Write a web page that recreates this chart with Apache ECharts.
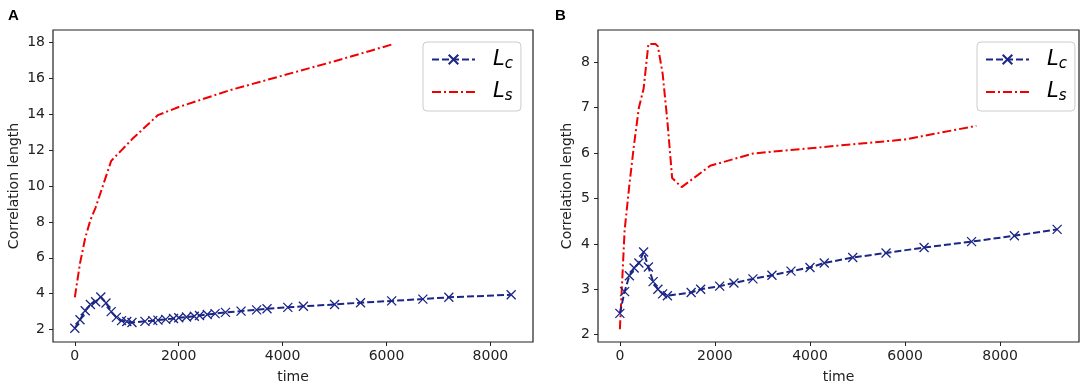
<!DOCTYPE html>
<html>
<head>
<meta charset="utf-8">
<script src="https://cdn.jsdelivr.net/npm/echarts@6/dist/echarts.min.js"></script>
<style>
  html, body { margin: 0; padding: 0; background: #fff; }
  #chart { width: 1084px; height: 391px; }
</style>
</head>
<body>
<div id="chart"></div>
<script>
// panel A
var timeA_c = [0, 100, 200, 300, 400, 500, 600, 700, 800, 900, 1000, 1100, 1350, 1500, 1600, 1750, 1900, 2000, 2150, 2300, 2400, 2550, 2700, 2900, 3200, 3500, 3700, 4100, 4400, 5000, 5500, 6100, 6700, 7200, 8400];
var lcA = [2.08, 2.55, 3.05, 3.4, 3.55, 3.82, 3.48, 3.0, 2.68, 2.5, 2.45, 2.4, 2.46, 2.5, 2.53, 2.57, 2.62, 2.66, 2.7, 2.74, 2.79, 2.84, 2.89, 2.96, 3.03, 3.1, 3.16, 3.24, 3.3, 3.4, 3.5, 3.6, 3.7, 3.8, 3.94];
var timeA_s = [0, 100, 200, 300, 400, 700, 900, 1100, 1600, 2000, 3000, 4000, 5000, 6100];
var lsA = [3.8, 5.7, 7.1, 8.1, 8.8, 11.4, 12.0, 12.6, 13.95, 14.4, 15.35, 16.15, 16.95, 17.88];

// panel B
var timeB_c = [0, 100, 200, 300, 400, 500, 600, 700, 800, 900, 1000, 1500, 1700, 2100, 2400, 2800, 3200, 3600, 4000, 4300, 4900, 5600, 6400, 7400, 8300, 9200];
var lcB = [2.47, 2.95, 3.3, 3.47, 3.58, 3.82, 3.49, 3.17, 3.0, 2.9, 2.86, 2.93, 3.0, 3.07, 3.14, 3.23, 3.31, 3.4, 3.48, 3.58, 3.7, 3.8, 3.92, 4.05, 4.18, 4.32];
var timeB_s = [0, 100, 200, 300, 400, 500, 600, 750, 800, 900, 1000, 1100, 1300, 1900, 2800, 6000, 7500];
var lsB = [2.12, 4.3, 5.3, 6.2, 7.0, 7.42, 8.4, 8.4, 8.35, 7.75, 6.7, 5.45, 5.25, 5.72, 5.99, 6.3, 6.6];

var xTicks = [0, 2000, 4000, 6000, 8000];
var yTicksA = [2, 4, 6, 8, 10, 12, 14, 16, 18];
var yTicksB = [2, 3, 4, 5, 6, 7, 8];

var NAVY = '#1b2686';
var RED = '#f00000';
var CROSS = 'path://M0,0L10,10M10,0L0,10';
var FONT = 'DejaVu Sans';

function zip(xs, ys) {
  return xs.map(function (x, i) { return [x, ys[i]]; });
}

function xAxisCfg(idx, min, max) {
  return {
    type: 'value', gridIndex: idx, min: min, max: max,
    name: 'time', nameLocation: 'middle', nameGap: 28,
    nameTextStyle: { fontFamily: FONT, fontSize: 14, color: '#222' },
    splitLine: { show: false },
    axisLine: { show: false, onZero: false },
    axisTick: { show: true, length: 4, customValues: xTicks, lineStyle: { color: '#222' } },
    axisLabel: {
      customValues: xTicks, fontFamily: FONT, fontSize: 14, color: '#222', margin: 7,
      formatter: function (v) { return String(v); }
    }
  };
}

function yAxisCfg(idx, min, max, ticks, gap) {
  return {
    type: 'value', gridIndex: idx, min: min, max: max,
    name: 'Correlation length', nameLocation: 'middle', nameGap: gap,
    nameTextStyle: { fontFamily: FONT, fontSize: 14, color: '#222' },
    splitLine: { show: false },
    axisLine: { show: false, onZero: false },
    axisTick: { show: true, length: 4, customValues: ticks, lineStyle: { color: '#222' } },
    axisLabel: {
      customValues: ticks, fontFamily: FONT, fontSize: 14, color: '#222', margin: 8,
      formatter: function (v) { return String(v); }
    }
  };
}

function lcSeries(idx, data) {
  return {
    name: 'Lc', type: 'line', xAxisIndex: idx, yAxisIndex: idx, data: data,
    symbol: CROSS, symbolSize: 9, showAllSymbol: true,
    itemStyle: { color: NAVY, borderColor: NAVY, borderWidth: 1.3 },
    lineStyle: { color: NAVY, width: 2, type: [7, 3] },
    emphasis: { disabled: true }, z: 3
  };
}

function lsSeries(idx, data) {
  return {
    name: 'Ls', type: 'line', xAxisIndex: idx, yAxisIndex: idx, data: data,
    symbol: 'none',
    itemStyle: { color: RED },
    lineStyle: { color: RED, width: 2, type: [9, 3, 2, 3] },
    emphasis: { disabled: true }, z: 2
  };
}

function legendCfg(left) {
  return {
    orient: 'vertical', left: left, top: 42,
    data: ['Lc', { name: 'Ls', itemStyle: { opacity: 0 } }],
    itemWidth: 43, itemHeight: 12, itemGap: 10,
    padding: [7, 8, 7, 8],
    borderColor: '#cccccc', borderWidth: 1, borderRadius: 4,
    selectedMode: false,
    formatter: function (name) {
      return '{m|L}{s|' + name.charAt(1) + '}';
    },
    textStyle: {
      rich: {
        m: { fontFamily: FONT, fontStyle: 'italic', fontSize: 21, color: '#000', padding: [0, 0, 0, 13] },
        s: { fontFamily: FONT, fontStyle: 'italic', fontSize: 15, color: '#000', verticalAlign: 'bottom', padding: [9, 0, 0, 0] }
      }
    }
  };
}

var chart = echarts.init(document.getElementById('chart'), null, { renderer: 'canvas' });
chart.setOption({
  animation: false,
  backgroundColor: '#fff',
  grid: [
    { left: 53, top: 30, width: 480, height: 312, show: true, borderColor: '#222', borderWidth: 1.2, backgroundColor: 'transparent' },
    { left: 598, top: 30, width: 481, height: 312, show: true, borderColor: '#222', borderWidth: 1.2, backgroundColor: 'transparent' }
  ],
  xAxis: [xAxisCfg(0, -420, 8820), xAxisCfg(1, -460, 9660)],
  yAxis: [yAxisCfg(0, 1.31, 18.69, yTicksA, 32), yAxisCfg(1, 1.84, 8.71, yTicksB, 24)],
  legend: [legendCfg(423), legendCfg(977)],
  graphic: [
    { type: 'text', left: 8, top: 8, style: { text: 'A', fontFamily: 'Liberation Sans', fontWeight: 'bold', fontSize: 15, fill: '#000' } },
    { type: 'text', left: 555, top: 8, style: { text: 'B', fontFamily: 'Liberation Sans', fontWeight: 'bold', fontSize: 15, fill: '#000' } }
  ],
  series: [
    lcSeries(0, zip(timeA_c, lcA)),
    lsSeries(0, zip(timeA_s, lsA)),
    lcSeries(1, zip(timeB_c, lcB)),
    lsSeries(1, zip(timeB_s, lsB))
  ]
});
</script>
</body>
</html>
